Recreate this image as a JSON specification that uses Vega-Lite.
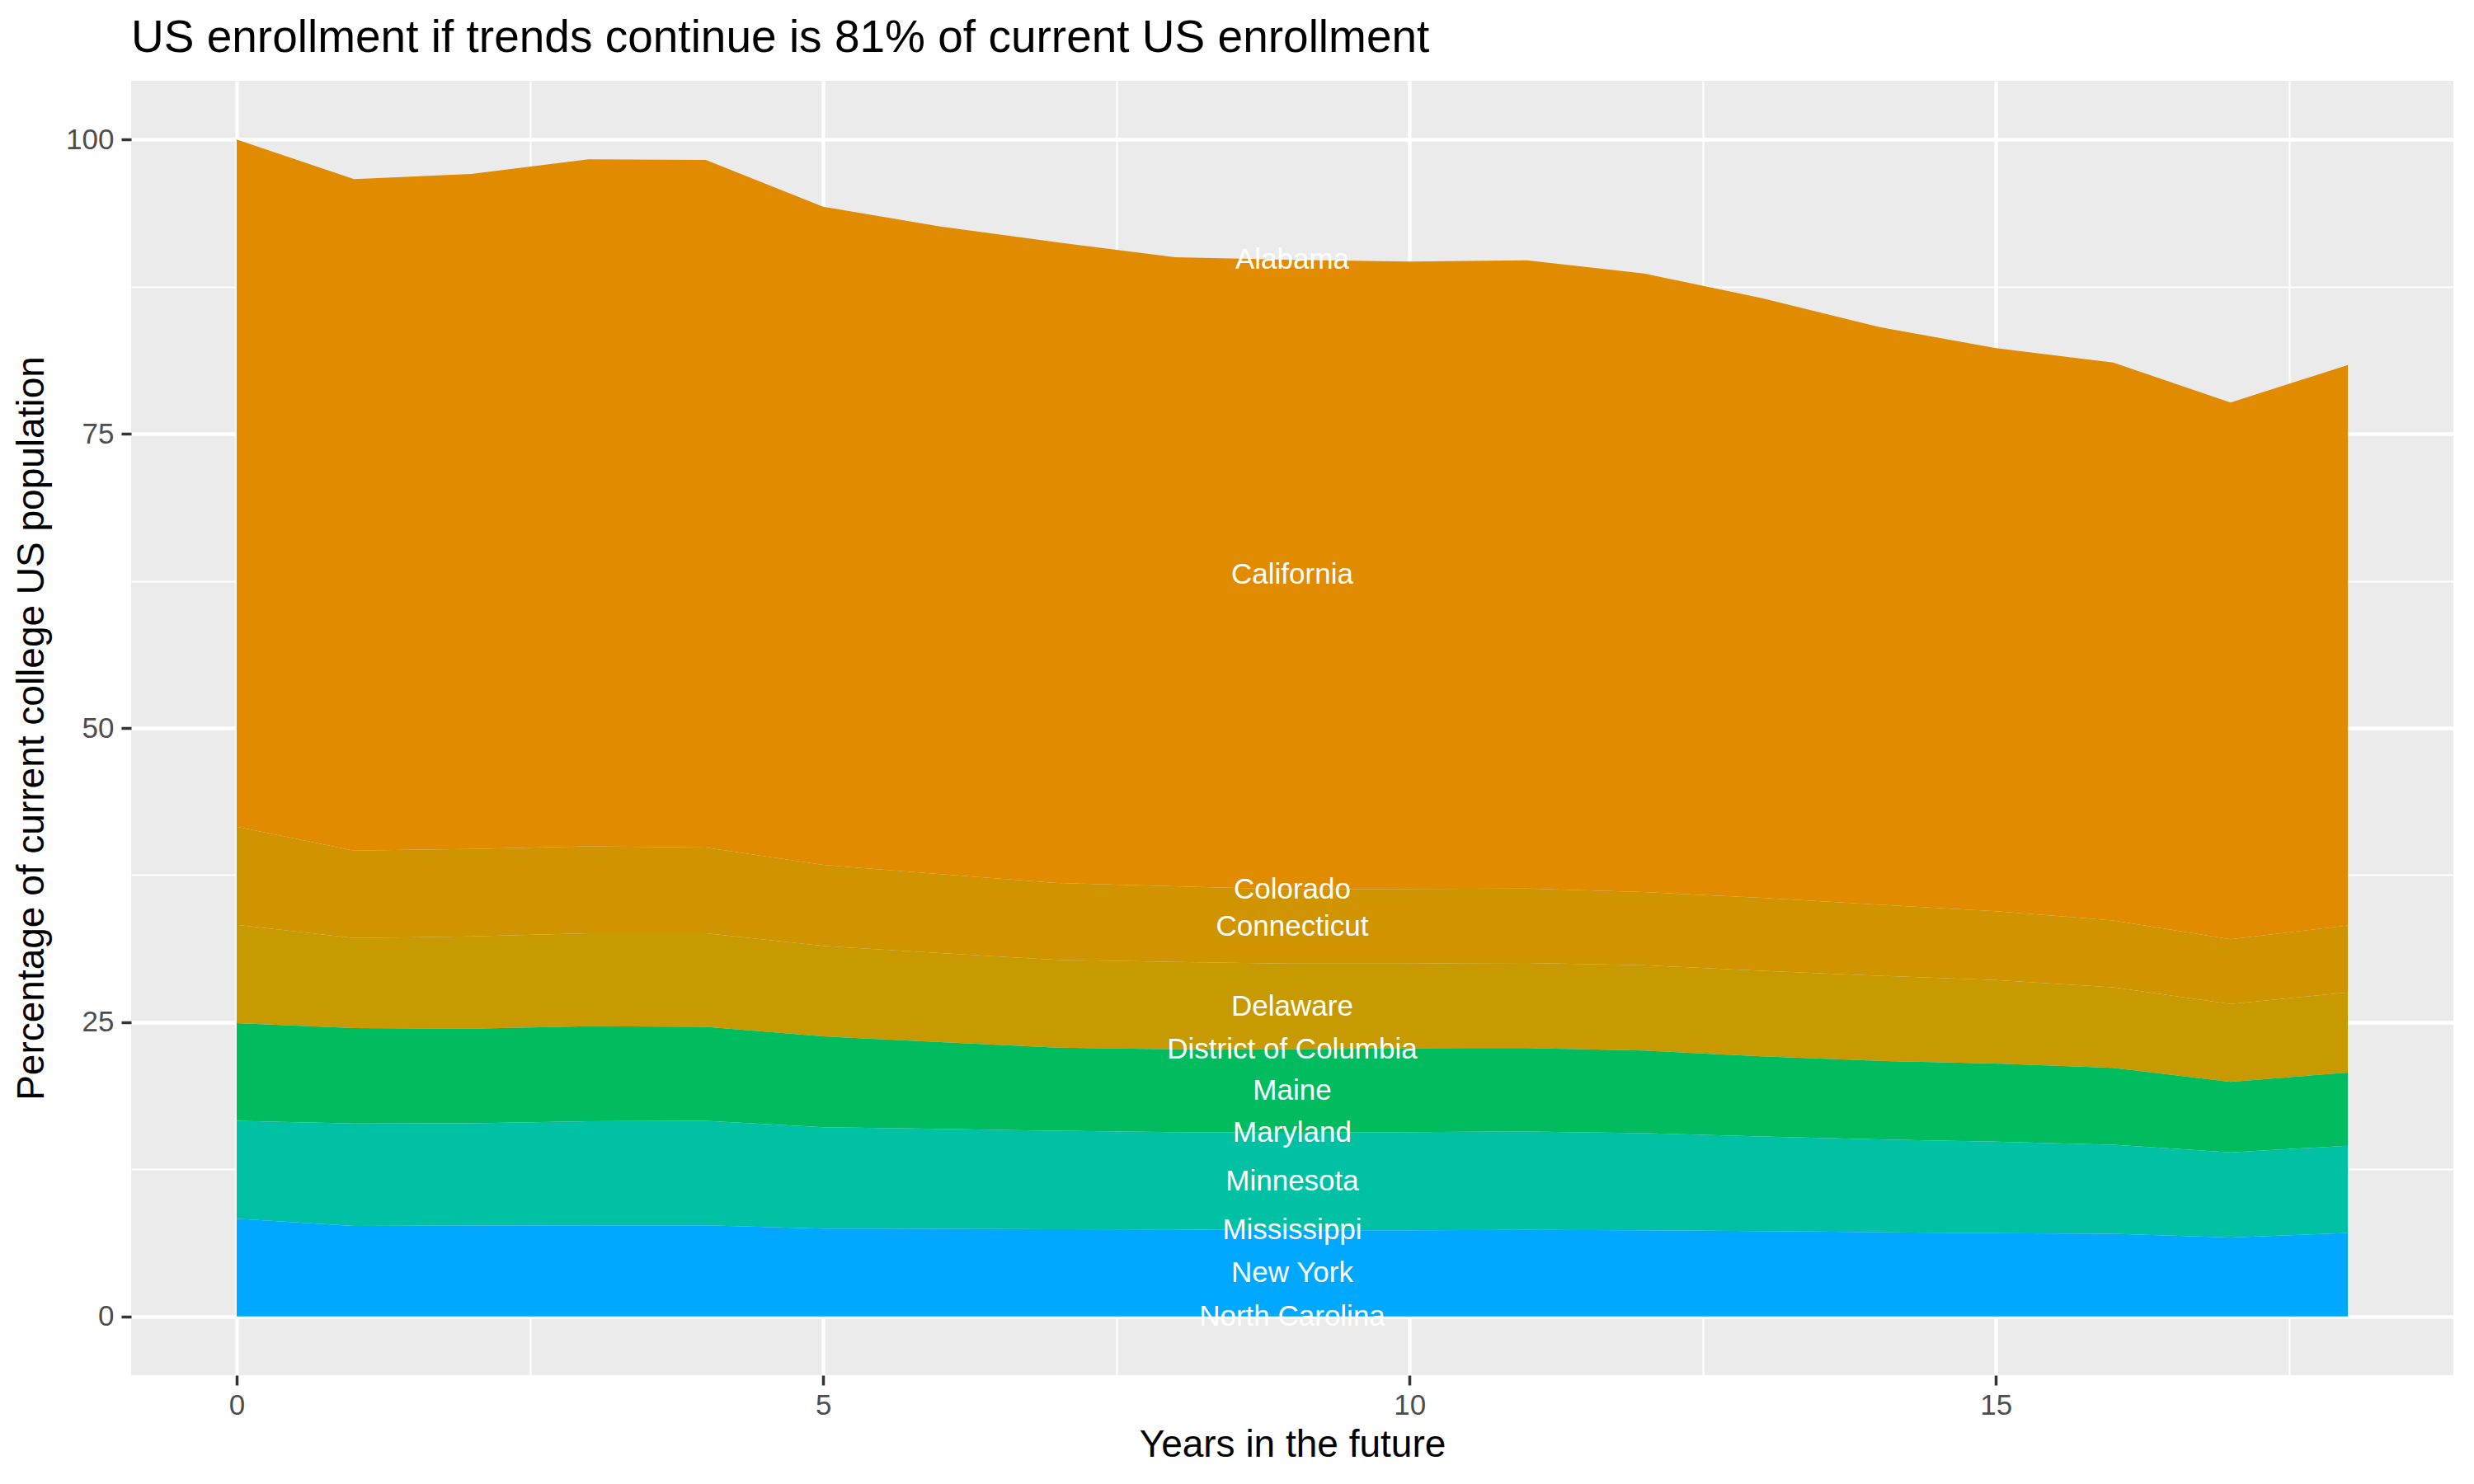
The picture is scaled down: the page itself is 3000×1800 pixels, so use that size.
{
  "$schema": "https://vega.github.io/schema/vega-lite/v6.json",
  "autosize": "none",
  "width": 2816,
  "height": 1570,
  "padding": {"left": 159, "top": 98, "right": 25, "bottom": 132},
  "background": "#ffffff",
  "config": {
    "font": "Liberation Sans",
    "view": {"fill": "#EBEBEB", "stroke": null}
  },
  "title": {
    "text": "US enrollment if trends continue is 81% of current US enrollment",
    "anchor": "start",
    "frame": "group",
    "fontSize": 55,
    "fontWeight": "normal",
    "color": "#000000",
    "offset": 23
  },
  "data": {
    "values": [
      {"year": 0, "state": "Alabama", "pct": 0}, {"year": 0, "state": "California", "pct": 58.39}, {"year": 0, "state": "Colorado", "pct": 0}, {"year": 0, "state": "Connecticut", "pct": 8.33}, {"year": 0, "state": "Delaware", "pct": 8.36}, {"year": 0, "state": "District of Columbia", "pct": 0}, {"year": 0, "state": "Maine", "pct": 8.31}, {"year": 0, "state": "Maryland", "pct": 0}, {"year": 0, "state": "Minnesota", "pct": 8.31}, {"year": 0, "state": "Mississippi", "pct": 0}, {"year": 0, "state": "New York", "pct": 8.30}, {"year": 0, "state": "North Carolina", "pct": 0},
      {"year": 1, "state": "Alabama", "pct": 0}, {"year": 1, "state": "California", "pct": 57.06}, {"year": 1, "state": "Colorado", "pct": 0}, {"year": 1, "state": "Connecticut", "pct": 7.43}, {"year": 1, "state": "Delaware", "pct": 7.66}, {"year": 1, "state": "District of Columbia", "pct": 0}, {"year": 1, "state": "Maine", "pct": 8.10}, {"year": 1, "state": "Maryland", "pct": 0}, {"year": 1, "state": "Minnesota", "pct": 8.70}, {"year": 1, "state": "Mississippi", "pct": 0}, {"year": 1, "state": "New York", "pct": 7.69}, {"year": 1, "state": "North Carolina", "pct": 0},
      {"year": 2, "state": "Alabama", "pct": 0}, {"year": 2, "state": "California", "pct": 57.36}, {"year": 2, "state": "Colorado", "pct": 0}, {"year": 2, "state": "Connecticut", "pct": 7.43}, {"year": 2, "state": "Delaware", "pct": 7.85}, {"year": 2, "state": "District of Columbia", "pct": 0}, {"year": 2, "state": "Maine", "pct": 8.03}, {"year": 2, "state": "Maryland", "pct": 0}, {"year": 2, "state": "Minnesota", "pct": 8.70}, {"year": 2, "state": "Mississippi", "pct": 0}, {"year": 2, "state": "New York", "pct": 7.71}, {"year": 2, "state": "North Carolina", "pct": 0},
      {"year": 3, "state": "Alabama", "pct": 0}, {"year": 3, "state": "California", "pct": 58.37}, {"year": 3, "state": "Colorado", "pct": 0}, {"year": 3, "state": "Connecticut", "pct": 7.40}, {"year": 3, "state": "Delaware", "pct": 7.89}, {"year": 3, "state": "District of Columbia", "pct": 0}, {"year": 3, "state": "Maine", "pct": 8.08}, {"year": 3, "state": "Maryland", "pct": 0}, {"year": 3, "state": "Minnesota", "pct": 8.84}, {"year": 3, "state": "Mississippi", "pct": 0}, {"year": 3, "state": "New York", "pct": 7.74}, {"year": 3, "state": "North Carolina", "pct": 0},
      {"year": 4, "state": "Alabama", "pct": 0}, {"year": 4, "state": "California", "pct": 58.43}, {"year": 4, "state": "Colorado", "pct": 0}, {"year": 4, "state": "Connecticut", "pct": 7.29}, {"year": 4, "state": "Delaware", "pct": 7.94}, {"year": 4, "state": "District of Columbia", "pct": 0}, {"year": 4, "state": "Maine", "pct": 8.00}, {"year": 4, "state": "Maryland", "pct": 0}, {"year": 4, "state": "Minnesota", "pct": 8.87}, {"year": 4, "state": "Mississippi", "pct": 0}, {"year": 4, "state": "New York", "pct": 7.74}, {"year": 4, "state": "North Carolina", "pct": 0},
      {"year": 5, "state": "Alabama", "pct": 0}, {"year": 5, "state": "California", "pct": 55.93}, {"year": 5, "state": "Colorado", "pct": 0}, {"year": 5, "state": "Connecticut", "pct": 6.89}, {"year": 5, "state": "Delaware", "pct": 7.69}, {"year": 5, "state": "District of Columbia", "pct": 0}, {"year": 5, "state": "Maine", "pct": 7.71}, {"year": 5, "state": "Maryland", "pct": 0}, {"year": 5, "state": "Minnesota", "pct": 8.62}, {"year": 5, "state": "Mississippi", "pct": 0}, {"year": 5, "state": "New York", "pct": 7.46}, {"year": 5, "state": "North Carolina", "pct": 0},
      {"year": 6, "state": "Alabama", "pct": 0}, {"year": 6, "state": "California", "pct": 55.04}, {"year": 6, "state": "Colorado", "pct": 0}, {"year": 6, "state": "Connecticut", "pct": 6.70}, {"year": 6, "state": "Delaware", "pct": 7.57}, {"year": 6, "state": "District of Columbia", "pct": 0}, {"year": 6, "state": "Maine", "pct": 7.38}, {"year": 6, "state": "Maryland", "pct": 0}, {"year": 6, "state": "Minnesota", "pct": 8.50}, {"year": 6, "state": "Mississippi", "pct": 0}, {"year": 6, "state": "New York", "pct": 7.43}, {"year": 6, "state": "North Carolina", "pct": 0},
      {"year": 7, "state": "Alabama", "pct": 0}, {"year": 7, "state": "California", "pct": 54.45}, {"year": 7, "state": "Colorado", "pct": 0}, {"year": 7, "state": "Connecticut", "pct": 6.53}, {"year": 7, "state": "Delaware", "pct": 7.46}, {"year": 7, "state": "District of Columbia", "pct": 0}, {"year": 7, "state": "Maine", "pct": 7.06}, {"year": 7, "state": "Maryland", "pct": 0}, {"year": 7, "state": "Minnesota", "pct": 8.37}, {"year": 7, "state": "Mississippi", "pct": 0}, {"year": 7, "state": "New York", "pct": 7.40}, {"year": 7, "state": "North Carolina", "pct": 0},
      {"year": 8, "state": "Alabama", "pct": 0}, {"year": 8, "state": "California", "pct": 53.47}, {"year": 8, "state": "Colorado", "pct": 0}, {"year": 8, "state": "Connecticut", "pct": 6.42}, {"year": 8, "state": "Delaware", "pct": 7.43}, {"year": 8, "state": "District of Columbia", "pct": 0}, {"year": 8, "state": "Maine", "pct": 7.04}, {"year": 8, "state": "Maryland", "pct": 0}, {"year": 8, "state": "Minnesota", "pct": 8.27}, {"year": 8, "state": "Mississippi", "pct": 0}, {"year": 8, "state": "New York", "pct": 7.38}, {"year": 8, "state": "North Carolina", "pct": 0},
      {"year": 9, "state": "Alabama", "pct": 0}, {"year": 9, "state": "California", "pct": 53.49}, {"year": 9, "state": "Colorado", "pct": 0}, {"year": 9, "state": "Connecticut", "pct": 6.31}, {"year": 9, "state": "Delaware", "pct": 7.29}, {"year": 9, "state": "District of Columbia", "pct": 0}, {"year": 9, "state": "Maine", "pct": 7.09}, {"year": 9, "state": "Maryland", "pct": 0}, {"year": 9, "state": "Minnesota", "pct": 8.28}, {"year": 9, "state": "Mississippi", "pct": 0}, {"year": 9, "state": "New York", "pct": 7.32}, {"year": 9, "state": "North Carolina", "pct": 0},
      {"year": 10, "state": "Alabama", "pct": 0}, {"year": 10, "state": "California", "pct": 53.32}, {"year": 10, "state": "Colorado", "pct": 0}, {"year": 10, "state": "Connecticut", "pct": 6.34}, {"year": 10, "state": "Delaware", "pct": 7.20}, {"year": 10, "state": "District of Columbia", "pct": 0}, {"year": 10, "state": "Maine", "pct": 7.13}, {"year": 10, "state": "Maryland", "pct": 0}, {"year": 10, "state": "Minnesota", "pct": 8.33}, {"year": 10, "state": "Mississippi", "pct": 0}, {"year": 10, "state": "New York", "pct": 7.32}, {"year": 10, "state": "North Carolina", "pct": 0},
      {"year": 11, "state": "Alabama", "pct": 0}, {"year": 11, "state": "California", "pct": 53.40}, {"year": 11, "state": "Colorado", "pct": 0}, {"year": 11, "state": "Connecticut", "pct": 6.31}, {"year": 11, "state": "Delaware", "pct": 7.24}, {"year": 11, "state": "District of Columbia", "pct": 0}, {"year": 11, "state": "Maine", "pct": 7.09}, {"year": 11, "state": "Maryland", "pct": 0}, {"year": 11, "state": "Minnesota", "pct": 8.36}, {"year": 11, "state": "Mississippi", "pct": 0}, {"year": 11, "state": "New York", "pct": 7.35}, {"year": 11, "state": "North Carolina", "pct": 0},
      {"year": 12, "state": "Alabama", "pct": 0}, {"year": 12, "state": "California", "pct": 52.57}, {"year": 12, "state": "Colorado", "pct": 0}, {"year": 12, "state": "Connecticut", "pct": 6.22}, {"year": 12, "state": "Delaware", "pct": 7.26}, {"year": 12, "state": "District of Columbia", "pct": 0}, {"year": 12, "state": "Maine", "pct": 7.01}, {"year": 12, "state": "Maryland", "pct": 0}, {"year": 12, "state": "Minnesota", "pct": 8.25}, {"year": 12, "state": "Mississippi", "pct": 0}, {"year": 12, "state": "New York", "pct": 7.32}, {"year": 12, "state": "North Carolina", "pct": 0},
      {"year": 13, "state": "Alabama", "pct": 0}, {"year": 13, "state": "California", "pct": 50.97}, {"year": 13, "state": "Colorado", "pct": 0}, {"year": 13, "state": "Connecticut", "pct": 6.20}, {"year": 13, "state": "Delaware", "pct": 7.26}, {"year": 13, "state": "District of Columbia", "pct": 0}, {"year": 13, "state": "Maine", "pct": 6.81}, {"year": 13, "state": "Maryland", "pct": 0}, {"year": 13, "state": "Minnesota", "pct": 8.05}, {"year": 13, "state": "Mississippi", "pct": 0}, {"year": 13, "state": "New York", "pct": 7.24}, {"year": 13, "state": "North Carolina", "pct": 0},
      {"year": 14, "state": "Alabama", "pct": 0}, {"year": 14, "state": "California", "pct": 49.09}, {"year": 14, "state": "Colorado", "pct": 0}, {"year": 14, "state": "Connecticut", "pct": 6.05}, {"year": 14, "state": "Delaware", "pct": 7.23}, {"year": 14, "state": "District of Columbia", "pct": 0}, {"year": 14, "state": "Maine", "pct": 6.68}, {"year": 14, "state": "Maryland", "pct": 0}, {"year": 14, "state": "Minnesota", "pct": 7.88}, {"year": 14, "state": "Mississippi", "pct": 0}, {"year": 14, "state": "New York", "pct": 7.15}, {"year": 14, "state": "North Carolina", "pct": 0},
      {"year": 15, "state": "Alabama", "pct": 0}, {"year": 15, "state": "California", "pct": 47.85}, {"year": 15, "state": "Colorado", "pct": 0}, {"year": 15, "state": "Connecticut", "pct": 5.85}, {"year": 15, "state": "Delaware", "pct": 7.10}, {"year": 15, "state": "District of Columbia", "pct": 0}, {"year": 15, "state": "Maine", "pct": 6.64}, {"year": 15, "state": "Maryland", "pct": 0}, {"year": 15, "state": "Minnesota", "pct": 7.77}, {"year": 15, "state": "Mississippi", "pct": 0}, {"year": 15, "state": "New York", "pct": 7.07}, {"year": 15, "state": "North Carolina", "pct": 0},
      {"year": 16, "state": "Alabama", "pct": 0}, {"year": 16, "state": "California", "pct": 47.41}, {"year": 16, "state": "Colorado", "pct": 0}, {"year": 16, "state": "Connecticut", "pct": 5.68}, {"year": 16, "state": "Delaware", "pct": 6.85}, {"year": 16, "state": "District of Columbia", "pct": 0}, {"year": 16, "state": "Maine", "pct": 6.53}, {"year": 16, "state": "Maryland", "pct": 0}, {"year": 16, "state": "Minnesota", "pct": 7.57}, {"year": 16, "state": "Mississippi", "pct": 0}, {"year": 16, "state": "New York", "pct": 7.01}, {"year": 16, "state": "North Carolina", "pct": 0},
      {"year": 17, "state": "Alabama", "pct": 0}, {"year": 17, "state": "California", "pct": 45.62}, {"year": 17, "state": "Colorado", "pct": 0}, {"year": 17, "state": "Connecticut", "pct": 5.49}, {"year": 17, "state": "Delaware", "pct": 6.62}, {"year": 17, "state": "District of Columbia", "pct": 0}, {"year": 17, "state": "Maine", "pct": 5.99}, {"year": 17, "state": "Maryland", "pct": 0}, {"year": 17, "state": "Minnesota", "pct": 7.24}, {"year": 17, "state": "Mississippi", "pct": 0}, {"year": 17, "state": "New York", "pct": 6.70}, {"year": 17, "state": "North Carolina", "pct": 0},
      {"year": 18, "state": "Alabama", "pct": 0}, {"year": 18, "state": "California", "pct": 47.62}, {"year": 18, "state": "Colorado", "pct": 0}, {"year": 18, "state": "Connecticut", "pct": 5.69}, {"year": 18, "state": "Delaware", "pct": 6.81}, {"year": 18, "state": "District of Columbia", "pct": 0}, {"year": 18, "state": "Maine", "pct": 6.22}, {"year": 18, "state": "Maryland", "pct": 0}, {"year": 18, "state": "Minnesota", "pct": 7.41}, {"year": 18, "state": "Mississippi", "pct": 0}, {"year": 18, "state": "New York", "pct": 7.09}, {"year": 18, "state": "North Carolina", "pct": 0}
    ]
  },
  "transform": [
    {"stack": "pct", "groupby": ["year"], "sort": [{"field": "state", "order": "descending"}], "as": ["y0", "y1"]}
  ],
  "encoding": {
    "x": {
      "field": "year",
      "type": "quantitative",
      "scale": {"domain": [-0.9, 18.9], "nice": false, "zero": false},
      "axis": {
        "title": "Years in the future",
        "values": [0, 2.5, 5, 7.5, 10, 12.5, 15, 17.5],
        "format": "d",
        "labelExpr": "datum.value % 5 === 0 ? datum.label : ''",
        "domain": false,
        "grid": true,
        "gridColor": "#ffffff",
        "gridOpacity": 1,
        "gridWidth": {"condition": {"test": "datum.value % 5 === 0", "value": 4.3}, "value": 2.1},
        "tickColor": "#333333",
        "tickOpacity": {"condition": {"test": "datum.value % 5 === 0", "value": 1}, "value": 0},
        "tickSize": 12,
        "tickWidth": 3.5,
        "labelFontSize": 35,
        "labelColor": "#4D4D4D",
        "labelPadding": 7,
        "labelFlush": false,
        "labelOverlap": false,
        "titleFontSize": 46,
        "titleFontWeight": "normal",
        "titleColor": "#000000",
        "titlePadding": 8
      }
    }
  },
  "layer": [
    {
      "mark": {"type": "area", "interpolate": "linear"},
      "encoding": {
        "y": {
          "field": "y1",
          "type": "quantitative",
          "scale": {"domain": [-5, 105], "nice": false, "zero": false},
          "axis": {
            "title": "Percentage of current college US population",
            "values": [0, 12.5, 25, 37.5, 50, 62.5, 75, 87.5, 100],
            "format": "d",
            "labelExpr": "datum.value % 25 === 0 ? datum.label : ''",
            "domain": false,
            "grid": true,
            "gridColor": "#ffffff",
            "gridOpacity": 1,
            "gridWidth": {"condition": {"test": "datum.value % 25 === 0", "value": 4.3}, "value": 2.1},
            "tickColor": "#333333",
            "tickOpacity": {"condition": {"test": "datum.value % 25 === 0", "value": 1}, "value": 0},
            "tickSize": 12,
            "tickWidth": 3.5,
            "labelFontSize": 35,
            "labelColor": "#4D4D4D",
            "labelPadding": 9,
            "labelFlush": false,
            "labelOverlap": false,
            "titleFontSize": 46,
            "titleFontWeight": "normal",
            "titleColor": "#000000",
            "titlePadding": 17
          }
        },
        "y2": {"field": "y0"},
        "color": {
          "field": "state",
          "type": "nominal",
          "legend": null,
          "scale": {
            "domain": ["Alabama", "California", "Colorado", "Connecticut", "Delaware", "District of Columbia", "Maine", "Maryland", "Minnesota", "Mississippi", "New York", "North Carolina"],
            "range": ["#F8766D", "#E08B00", "#D89000", "#CF9400", "#C69A00", "#BD9D00", "#00BC5F", "#00BF7A", "#00C1A4", "#00C0B2", "#00A9FF", "#2EA3FF"]
          }
        }
      }
    },
    {
      "transform": [
        {"filter": "datum.year === 9"},
        {"calculate": "(datum.y0 + datum.y1) / 2", "as": "mid"}
      ],
      "mark": {"type": "text", "color": "#ffffff", "fontSize": 35, "align": "center", "baseline": "middle"},
      "encoding": {
        "y": {"field": "mid", "type": "quantitative"},
        "text": {"field": "state"}
      }
    }
  ]
}
